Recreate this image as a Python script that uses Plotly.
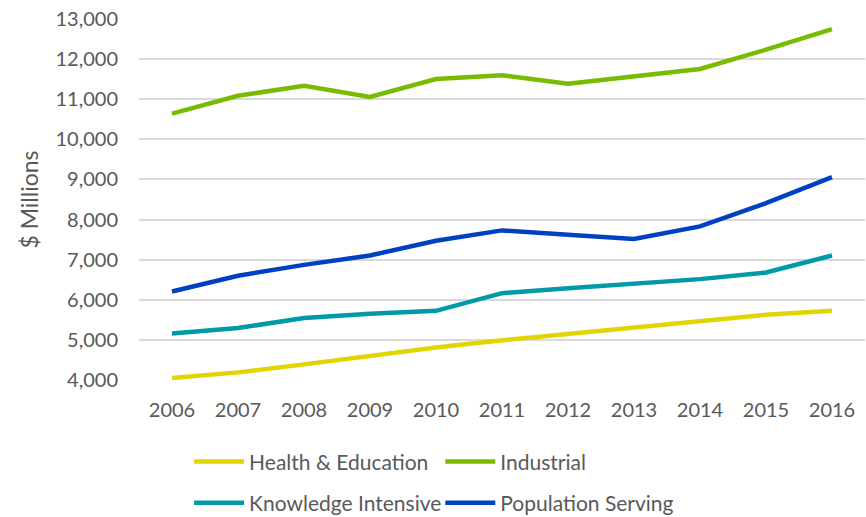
import plotly.graph_objects as go

# Annual output by industry cluster, $ millions
years = [str(y) for y in range(2006, 2017)]
health_education = [4050, 4190, 4390, 4600, 4810, 4990, 5150, 5310, 5460, 5625, 5725]
industrial = [10640, 11085, 11335, 11055, 11505, 11600, 11385, 11570, 11755, 12235, 12750]
knowledge_intensive = [5160, 5295, 5545, 5650, 5725, 6165, 6290, 6400, 6515, 6680, 7105]
population_serving = [6205, 6600, 6870, 7105, 7470, 7730, 7620, 7515, 7830, 8410, 9060]

y_ticks = list(range(4000, 13001, 1000))

series = [
    ("Health & Education", health_education, "#E2D400", "legend"),
    ("Industrial", industrial, "#77BC00", "legend2"),
    ("Knowledge Intensive", knowledge_intensive, "#0099A8", "legend3"),
    ("Population Serving", population_serving, "#0041C2", "legend4"),
]

FONT = "Lato"
TEXT_COLOR = "#595959"

fig = go.Figure()
for name, values, color, leg in series:
    fig.add_trace(go.Scatter(
        x=years, y=values, name=name, mode="lines",
        line=dict(color=color, width=4.5),
        legend=leg,
    ))

legend_common = dict(
    orientation="h", xanchor="left", yanchor="middle",
    font=dict(family=FONT, size=21, color=TEXT_COLOR),
    bgcolor="rgba(0,0,0,0)", itemwidth=50,
    xref="paper", yref="paper",
)
col1_x, col2_x = 0.069, 0.415
row1_y, row2_y = -0.227, -0.341

fig.update_layout(
    width=866, height=517,
    margin=dict(l=139, r=1, t=19, b=137, autoexpand=False),
    paper_bgcolor="white", plot_bgcolor="white",
    font=dict(family=FONT, size=20, color=TEXT_COLOR),
    showlegend=True,
    legend=dict(x=col1_x, y=row1_y, **legend_common),
    legend2=dict(x=col2_x, y=row1_y, **legend_common),
    legend3=dict(x=col1_x, y=row2_y, **legend_common),
    legend4=dict(x=col2_x, y=row2_y, **legend_common),
    xaxis=dict(
        type="category", range=[-0.5, len(years) - 0.5],
        showgrid=False, zeroline=False,
        showline=False, ticks="", ticklabelstandoff=16,
        tickfont=dict(family=FONT, size=20, color=TEXT_COLOR),
    ),
    yaxis=dict(
        range=[4000, 13000], tickvals=y_ticks,
        tickformat=",d", showgrid=True, gridcolor="#D9D9D9", gridwidth=1.5,
        zeroline=False, showline=False, ticks="", ticklabelstandoff=20,
        tickfont=dict(family=FONT, size=20, color=TEXT_COLOR),
        title=dict(text="$ Millions", standoff=10,
                   font=dict(family=FONT, size=23, color=TEXT_COLOR)),
    ),
)

fig.write_html("out.html")
